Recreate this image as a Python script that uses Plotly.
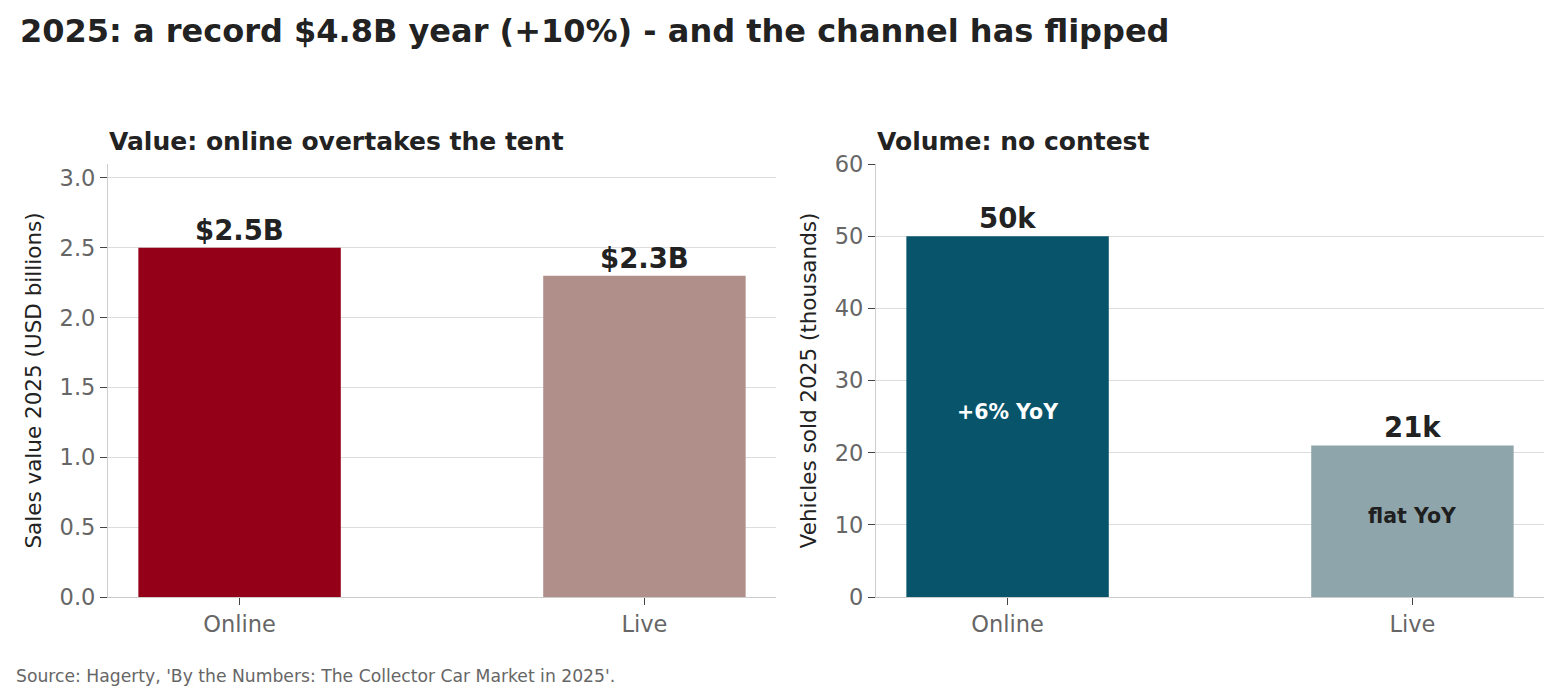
import plotly.graph_objs as go

channels = ['Online', 'Live']
value_bn = [2.5, 2.3]
volume_k = [50, 21]
value_labels = ['$2.5B', '$2.3B']
volume_labels = ['50k', '21k']
yoy_labels = ['+6% YoY', 'flat YoY']

value_colors = ['#940017', '#b08e8a']
volume_colors = ['#08546a', '#8fa5ac']
yoy_colors = ['white', '#1f1f1f']

FONT = 'DejaVu Sans'
DARK = '#222222'
GREY = '#666666'

# the page body adds an 8px margin, so the figure is 1548x680
W, H = 1548, 680


def fx(px):
    return (px - 8) / W


def fy(py):
    return 1 - (py - 8) / H


trace1 = go.Bar(x=channels, y=value_bn, width=0.5,
                marker=dict(color=value_colors, line=dict(width=0)),
                xaxis='x', yaxis='y', hoverinfo='skip')
trace2 = go.Bar(x=channels, y=volume_k, width=0.5,
                marker=dict(color=volume_colors, line=dict(width=0)),
                xaxis='x2', yaxis='y2', hoverinfo='skip')

annotations = []
for c, v, t in zip(channels, value_bn, value_labels):
    annotations.append(dict(x=c, y=v, xref='x', yref='y', text='<b>%s</b>' % t,
                            showarrow=False, yanchor='bottom',
                            font=dict(family=FONT, size=27.5, color=DARK)))
for c, v, t in zip(channels, volume_k, volume_labels):
    annotations.append(dict(x=c, y=v, xref='x2', yref='y2', text='<b>%s</b>' % t,
                            showarrow=False, yanchor='bottom',
                            font=dict(family=FONT, size=27.5, color=DARK)))
for c, v, t, col in zip(channels, volume_k, yoy_labels, yoy_colors):
    annotations.append(dict(x=c, y=v / 2, xref='x2', yref='y2', text='<b>%s</b>' % t,
                            showarrow=False, yshift=5,
                            font=dict(family=FONT, size=20.5, color=col)))

# titles and source
annotations += [
    dict(x=fx(18), y=fy(31), xref='paper', yref='paper', xanchor='left', yanchor='middle',
         text='<b>2025: a record $4.8B year (+10%) - and the channel has flipped</b>',
         showarrow=False, font=dict(family=FONT, size=32, color=DARK)),
    dict(x=fx(107), y=fy(142), xref='paper', yref='paper', xanchor='left', yanchor='middle',
         text='<b>Value: online overtakes the tent</b>',
         showarrow=False, font=dict(family=FONT, size=25, color=DARK)),
    dict(x=fx(875), y=fy(142), xref='paper', yref='paper', xanchor='left', yanchor='middle',
         text='<b>Volume: no contest</b>',
         showarrow=False, font=dict(family=FONT, size=25, color=DARK)),
    dict(x=fx(14), y=fy(676), xref='paper', yref='paper', xanchor='left', yanchor='middle',
         text="Source: Hagerty, 'By the Numbers: The Collector Car Market in 2025'.",
         showarrow=False, font=dict(family=FONT, size=17.2, color=GREY)),
]

xcommon = dict(range=[-0.325, 1.325], showgrid=False, showline=True, linecolor='#cccccc',
               linewidth=1.2, ticks='outside', ticklen=7, tickcolor='#444444',
               tickfont=dict(family=FONT, size=22.5, color=GREY), zeroline=False,
               fixedrange=True, automargin=False)
ycommon = dict(showgrid=True, gridcolor='#dddddd', gridwidth=1.2, showline=True,
               linecolor='#cccccc', linewidth=1.2, ticks='outside', ticklen=7,
               tickcolor='#444444', tickfont=dict(family=FONT, size=22.5, color=GREY),
               zeroline=False, fixedrange=True, automargin=False)

ydom = [fy(597), fy(164)]

layout = go.Layout(
    template='none',
    width=W, height=H,
    margin=dict(l=0, r=0, t=0, b=0, pad=0),
    paper_bgcolor='white', plot_bgcolor='white',
    showlegend=False,
    font=dict(family=FONT, color=DARK),
    xaxis=dict(xcommon, domain=[fx(108), fx(776)], anchor='y'),
    yaxis=dict(ycommon, domain=ydom, anchor='x', range=[0, 3.1], dtick=0.5, tickformat='.1f',
               title=dict(text='Sales value 2025 (USD billions)', standoff=12,
                          font=dict(family=FONT, size=21.5, color=DARK))),
    xaxis2=dict(xcommon, domain=[fx(876), fx(1544)], anchor='y2'),
    yaxis2=dict(ycommon, domain=ydom, anchor='x2', range=[0, 60], dtick=10,
                title=dict(text='Vehicles sold 2025 (thousands)', standoff=12,
                           font=dict(family=FONT, size=21.5, color=DARK))),
    annotations=annotations,
)

fig = go.Figure(data=[trace1, trace2], layout=layout)
fig.write_html('out.html')
